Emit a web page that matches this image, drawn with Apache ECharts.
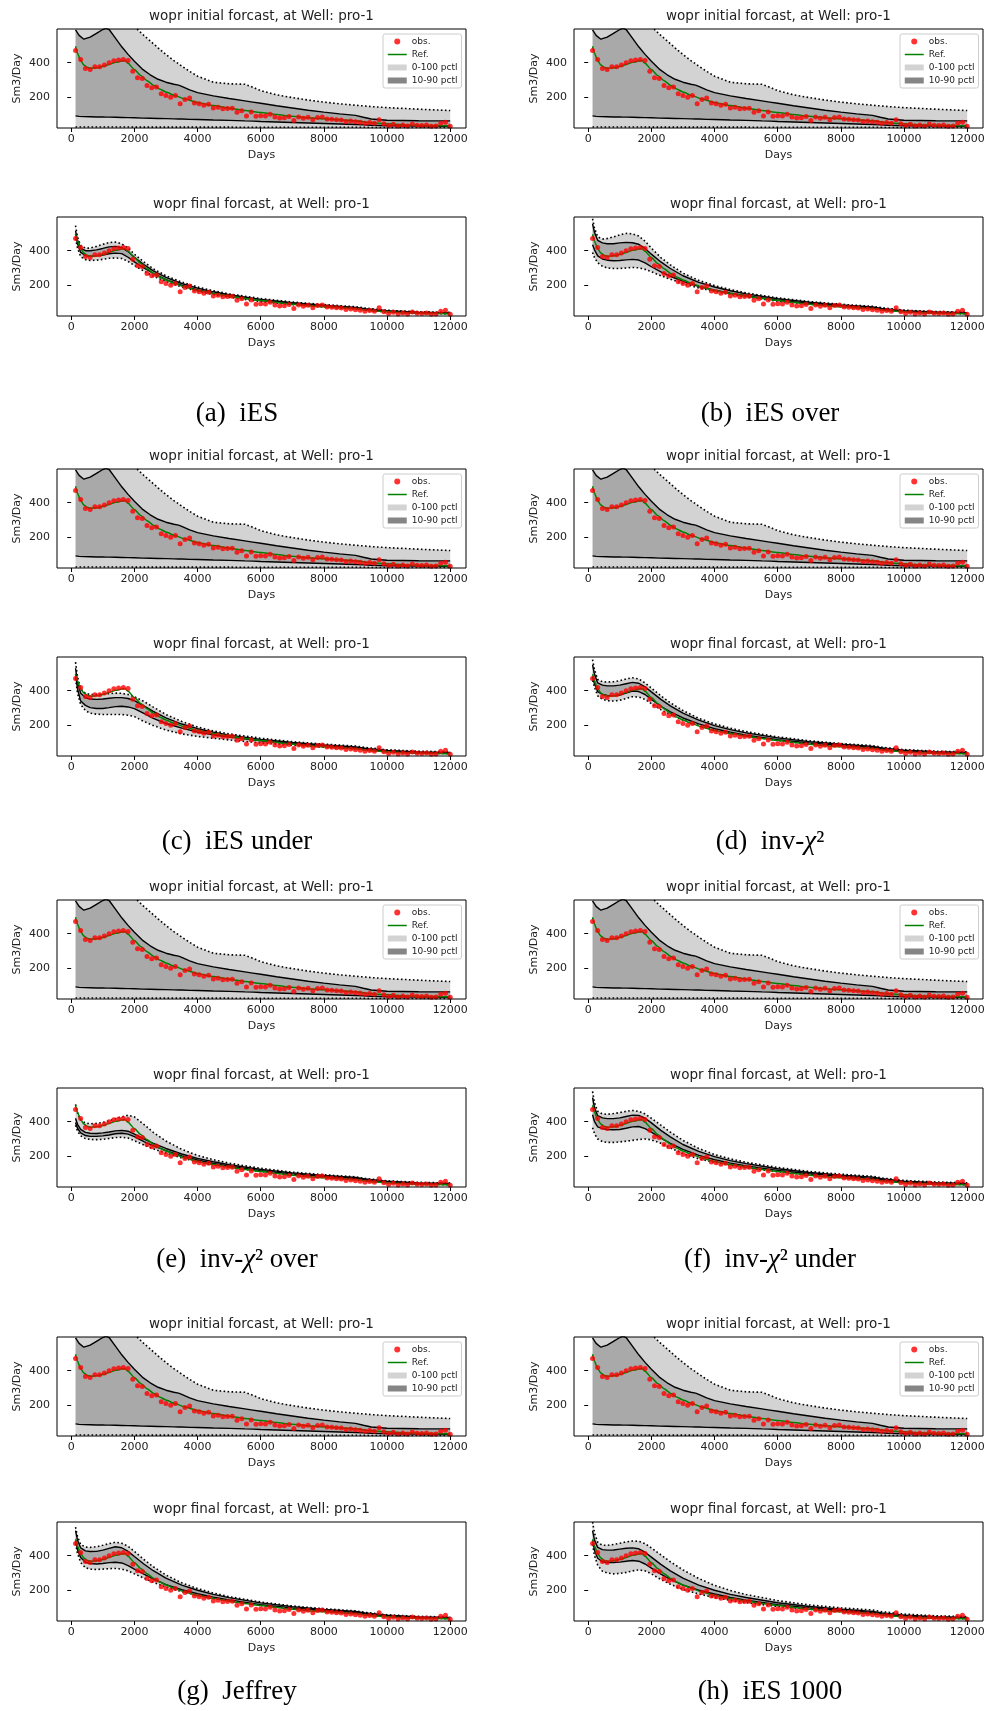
<!DOCTYPE html>
<html><head><meta charset="utf-8">
<script src="https://cdn.jsdelivr.net/npm/echarts@6/dist/echarts.min.js"></script>
<style>html,body{margin:0;padding:0;background:#fff}#c{width:997px;height:1711px}</style>
</head><body><div id="c"></div>
<script>
// ---------- data ----------
const xTicks = [0, 2000, 4000, 6000, 8000, 10000, 12000];
const yTicks = [200, 400];

const obsDays = [137,300,450,600,750,900,1050,1200,1350,1500,1650,1800,1950,2100,2250,2400,2550,2700,2850,3000,3150,3300,3450,3600,3750,3900,4050,4200,4350,4500,4650,4800,4950,5100,5250,5400,5550,5700,5850,6000,6150,6300,6450,6600,6750,6900,7050,7200,7350,7500,7650,7800,7950,8100,8250,8400,8550,8700,8850,9000,9150,9300,9450,9600,9750,9900,10050,10200,10350,10500,10650,10800,10950,11100,11250,11400,11550,11700,11850,12000];
const obsVals = [471,419,367,361,377,377,386,400,411,415,419,413,351,313,309,268,255,259,220,210,200,210,163,187,196,167,163,153,159,138,142,133,135,137,113,122,92,115,90,93,92,101,85,80,82,88,66,86,78,84,70,83,86,74,72,70,68,60,62,58,56,50,54,50,70,46,36,44,34,40,34,45,38,36,40,32,34,50,56,32];

const refDays = [137,200,300,400,500,600,800,1000,1200,1400,1600,1700,1800,2000,2200,2400,2600,2800,3000,3300,3600,4000,4500,5000,5500,6000,6500,7000,7500,8000,8500,9000,9500,10000,10500,11000,11500,12000];
const refVals = [495,455,412,387,373,368,370,378,390,402,410,412,397,360,326,296,270,248,230,208,190,170,152,137,123,111,100,90,82,76,70,64,53,46,41,38,36,34];

// initial (prior) ensemble
const iniDays = [137,250,400,600,800,1000,1100,1200,1400,1600,1800,2000,2250,2500,2750,3000,3250,3400,3500,3750,4000,4500,5000,5500,5750,6000,6500,7000,7500,8000,8500,9000,9250,9500,10000,11000,12000];
const iniMax = [1000,980,950,930,900,880,870,860,820,760,700,610,566,526,486,447,412,394,380,350,322,287,278,275,258,238,214,198,184,172,162,154,150,146,140,131,123];
const iniP90 = [590,558,536,548,570,592,600,592,542,492,448,408,363,330,304,287,275,270,263,243,227,208,193,179,172,165,151,138,125,114,104,95,84,74,67,64,63];
const iniP10 = [92,89,88,87,86,86,85,85,84,83,82,81,79,78,77,76,75,74,74,72,71,68,66,63,62,60,57,54,51,48,45,42,40,38,35,33,32];
const iniMin = [28,28,28,28,28,28,28,28,28,28,28,27,27,27,27,27,27,27,27,27,27,27,27,26,26,26,26,26,26,26,26,26,26,25,25,25,25];

// final (posterior) ensembles
const finDays = [137,200,300,450,600,800,1000,1200,1400,1600,1800,2000,2300,2600,3000,3500,4000,4500,5000,6000,7000,8000,9000,9300,10000,11000,12000];

const aMax = [545,480,430,415,415,425,437,447,450,440,415,380,335,295,255,218,190,168,150,123,103,88,76,68,55,47,43];
const aP90 = [515,460,415,400,400,405,413,422,425,418,395,362,320,283,245,210,183,162,145,118,99,84,72,64,52,44,40];
const aP10 = [495,440,390,372,368,370,375,382,386,383,362,335,300,268,233,199,173,153,137,111,93,79,67,60,48,41,37];
const aMin = [470,415,365,348,343,345,350,356,358,355,338,315,282,252,222,190,165,146,131,105,88,75,63,56,45,38,34];

const bMax = [585,530,480,468,470,480,492,500,498,485,455,415,360,318,270,228,198,175,156,127,106,90,78,70,56,48,44];
const bP90 = [555,505,460,445,440,440,445,448,446,437,413,380,335,297,255,217,190,168,150,122,102,86,74,66,53,45,41];
const bP10 = [435,405,370,352,345,342,343,347,350,346,330,307,277,252,222,193,172,154,139,113,95,80,68,61,49,42,38];
const bMin = [390,360,330,310,300,297,297,300,303,301,292,278,255,235,210,184,165,148,133,107,90,76,64,57,46,39,35];

const cMax = [565,480,410,385,378,378,380,383,386,385,378,365,338,305,262,222,190,167,150,125,105,91,80,72,58,50,46];
const cP90 = [530,450,385,360,352,350,352,356,360,360,355,343,312,280,243,207,180,160,143,118,100,86,75,67,54,46,42];
const cP10 = [495,410,340,315,302,297,297,302,308,310,306,296,268,240,210,183,160,145,132,110,93,80,69,62,50,43,39];
const cMin = [470,385,320,285,270,264,262,262,262,262,258,250,222,198,172,150,135,125,115,98,85,73,63,56,46,39,36];

const dMax = [580,520,465,452,450,452,458,468,475,468,445,415,370,330,285,240,208,183,163,133,110,94,82,73,59,50,46];
const dP90 = [550,495,445,432,428,428,432,440,448,443,422,393,350,312,270,230,198,175,156,127,105,90,78,69,55,47,43];
const dP10 = [480,440,395,378,372,370,375,386,398,395,378,350,310,278,242,208,180,160,143,117,98,83,72,64,51,43,39];
const dMin = [460,420,370,350,342,340,344,355,365,363,350,325,290,262,230,198,172,153,137,111,93,79,68,60,48,40,36];

const eMax = [500,450,410,392,388,390,396,405,417,428,437,428,385,338,288,240,205,180,160,130,108,93,81,72,58,49,45];
const eP90 = [420,385,355,338,333,332,335,340,347,350,345,328,300,275,245,213,188,168,151,124,104,89,77,68,55,46,42];
const eP10 = [395,362,335,320,315,315,318,323,330,333,328,313,285,260,232,202,178,159,143,117,98,83,71,63,51,42,38];
const eMin = [380,345,318,302,297,296,298,303,308,310,305,290,265,243,218,190,168,150,136,111,93,79,67,59,47,39,35];

const fMax = [575,510,460,445,443,447,453,460,465,460,445,420,380,340,292,245,210,185,165,135,112,96,84,74,60,51,46];
const fP90 = [540,480,435,422,418,418,422,430,438,436,420,393,350,312,268,228,198,175,157,128,106,91,79,70,56,47,43];
const fP10 = [440,400,370,360,355,353,355,362,370,372,360,340,305,275,240,205,180,160,144,118,99,84,72,64,51,43,39];
const fMin = [365,330,300,285,280,280,283,287,292,297,300,295,275,248,215,185,165,148,134,110,92,78,67,59,47,39,35];

const gMax = [565,510,465,450,448,452,460,470,478,472,455,425,378,336,288,243,210,184,163,132,109,93,81,72,58,49,45];
const gP90 = [545,490,445,428,424,425,432,442,452,446,425,395,352,313,270,230,200,176,157,127,105,89,77,68,55,46,42];
const gP10 = [490,435,390,362,355,352,355,360,362,358,343,322,293,265,233,203,180,160,144,117,98,83,71,63,51,42,38];
const gMin = [470,412,360,330,322,320,322,325,326,322,312,295,270,246,218,192,171,153,138,112,93,79,67,59,47,39,35];

const hMax = [595,530,478,460,460,465,472,480,485,483,470,445,405,365,318,268,228,198,175,140,115,98,86,76,62,52,48];
const hP90 = [545,490,448,435,432,433,438,443,445,440,420,392,350,312,270,230,200,176,158,128,106,90,78,69,56,47,43];
const hP10 = [490,430,385,365,360,360,363,368,372,368,352,328,293,263,230,200,178,158,143,117,98,83,71,63,51,42,39];
const hMin = [465,400,345,310,300,295,297,303,312,318,312,295,262,235,205,178,158,142,128,106,90,77,66,58,46,38,35];

const captions = ['(a)\u2002iES', '(b)\u2002iES over', '(c)\u2002iES under', '(d)\u2002inv-{i|χ}²',
                  '(e)\u2002inv-{i|χ}² over', '(f)\u2002inv-{i|χ}² under', '(g)\u2002Jeffrey', '(h)\u2002iES 1000'];
const legendNames = ['obs.', 'Ref.', '0-100 pctl', '10-90 pctl'];

// ---------- layout ----------
const W = 409, H = 99;
const colLeft = [57, 574];
const iniTops = [29, 469, 900, 1337];
const finTops = [217, 657, 1088, 1522];
const captionY = [414, 842, 1260, 1692];
const captionX = [237, 770];
const X_MIN = -450, X_MAX = 12500, Y_MIN = 22, Y_MAX = 595;
const LIGHT = '#d3d3d3', DARK = '#a9a9a9', LEG_DARK = '#858585';

const finals = [
  {max: aMax, p90: aP90, p10: aP10, min: aMin},
  {max: bMax, p90: bP90, p10: bP10, min: bMin},
  {max: cMax, p90: cP90, p10: cP10, min: cMin},
  {max: dMax, p90: dP90, p10: dP10, min: dMin},
  {max: eMax, p90: eP90, p10: eP10, min: eMin},
  {max: fMax, p90: fP90, p10: fP10, min: fMin},
  {max: gMax, p90: gP90, p10: gP10, min: gMin},
  {max: hMax, p90: hP90, p10: hP10, min: hMin}
];
const initial = {max: iniMax, p90: iniP90, p10: iniP10, min: iniMin};

const zip = (xs, ys) => xs.map((x, i) => [x, ys[i]]);

const FONT = 'DejaVu Sans';
const grids = [], xAxes = [], yAxes = [], series = [], legends = [], texts = [];

function bandSeries(p, name, days, upper, lower, color) {
  return {
    type: 'custom', name, xAxisIndex: p, yAxisIndex: p, silent: true, clip: true, z: 1,
    itemStyle: {color},
    data: [[days[0], lower[0]]],
    renderItem: function (params, api) {
      const pts = days.map((d, i) => api.coord([d, upper[i]]));
      for (let i = days.length - 1; i >= 0; i--) pts.push(api.coord([days[i], lower[i]]));
      return {type: 'polygon', shape: {points: pts}, style: {fill: color, stroke: null}};
    }
  };
}

for (let p = 0; p < 16; p++) {
  const k = Math.floor(p / 2), isIni = p % 2 === 0;
  const col = k % 2, block = Math.floor(k / 2);
  const left = colLeft[col];
  const top = isIni ? iniTops[block] : finTops[block];
  const days = isIni ? iniDays : finDays;
  const ens = isIni ? initial : finals[k];

  grids.push({left, top, width: W, height: H, show: true, borderColor: '#000', borderWidth: 1,
              backgroundColor: 'rgba(0,0,0,0)', z: 8});
  xAxes.push({gridIndex: p, type: 'value', min: X_MIN, max: X_MAX,
    axisLine: {show: false}, splitLine: {show: false},
    axisTick: {show: true, customValues: xTicks, length: 4, lineStyle: {color: '#000', width: 1}},
    axisLabel: {customValues: xTicks, formatter: v => String(v), fontSize: 11, fontFamily: FONT, color: '#222', margin: 6},
    name: 'Days', nameLocation: 'middle', nameGap: 22,
    nameTextStyle: {fontSize: 11, fontFamily: FONT, color: '#222'}});
  yAxes.push({gridIndex: p, type: 'value', min: Y_MIN, max: Y_MAX,
    axisLine: {show: false}, splitLine: {show: false},
    axisTick: {show: true, customValues: yTicks, length: 4, lineStyle: {color: '#000', width: 1}},
    axisLabel: {customValues: yTicks, formatter: v => String(v), fontSize: 11, fontFamily: FONT, color: '#222', margin: 7},
    name: 'Sm3/Day', nameLocation: 'middle', nameGap: 34,
    nameTextStyle: {fontSize: 11, fontFamily: FONT, color: '#222'}});

  // percentile bands
  series.push(bandSeries(p, '0-100 pctl', days, ens.max, ens.p90, LIGHT));
  series.push(bandSeries(p, '10-90 pctl', days, ens.p90, ens.p10, DARK));
  series.push(bandSeries(p, '0-100 pctl', days, ens.p10, ens.min, LIGHT));

  // bounds
  const base = {type: 'line', xAxisIndex: p, yAxisIndex: p, symbol: 'none', showSymbol: false,
                silent: true, smooth: false, clip: true};
  const dot = {color: '#000', width: 1.6, type: [1.6, 2.4]};
  const sol = {color: '#000', width: 1.4};
  series.push(Object.assign({}, base, {data: zip(days, ens.min), lineStyle: dot, z: 5}));
  series.push(Object.assign({}, base, {data: zip(days, ens.max), lineStyle: dot, z: 5}));
  series.push(Object.assign({}, base, {data: zip(days, ens.p10), lineStyle: sol, z: 5}));
  series.push(Object.assign({}, base, {data: zip(days, ens.p90), lineStyle: sol, z: 5}));
  // reference
  series.push(Object.assign({}, base, {name: 'Ref.', data: zip(refDays, refVals), smooth: 0.2, smoothMonotone: 'x',
    itemStyle: {color: '#008000'}, lineStyle: {color: '#008000', width: 1.5}, z: 6}));
  // observations
  series.push({type: 'scatter', name: 'obs.', xAxisIndex: p, yAxisIndex: p, data: zip(obsDays, obsVals),
    symbol: 'circle', symbolSize: 5, itemStyle: {color: '#ff0000'}, silent: true, z: 7});

  // title
  texts.push({type: 'text', x: left + W / 2, y: top - 12.5, z: 10, silent: true,
    style: {text: isIni ? 'wopr initial forcast, at Well: pro-1' : 'wopr final forcast, at Well: pro-1',
      fill: '#222', font: '13.5px "DejaVu Sans"', textAlign: 'center', textVerticalAlign: 'middle'}});

  if (isIni) {
    legends.push({left: left + 326, top: top + 5, orient: 'vertical', selectedMode: false,
      itemWidth: 19, itemHeight: 6, itemGap: 4, padding: [3, 4, 3, 4],
      borderColor: '#cccccc', borderWidth: 1, borderRadius: 2, backgroundColor: 'rgba(255,255,255,0.85)',
      textStyle: {fontSize: 9, fontFamily: FONT, color: '#222'}, z: 12,
      data: [
        {name: legendNames[0], icon: 'circle', itemStyle: {color: '#ff0000', borderWidth: 0}},
        {name: legendNames[1], itemStyle: {opacity: 0}, lineStyle: {color: '#008000', width: 1.5}},
        {name: legendNames[2], icon: 'rect', itemStyle: {color: LIGHT, borderWidth: 0}},
        {name: legendNames[3], icon: 'rect', itemStyle: {color: LEG_DARK, borderWidth: 0}}
      ]});
  }
}

for (let k = 0; k < 8; k++) {
  texts.push({type: 'text', x: captionX[k % 2], y: captionY[Math.floor(k / 2)], z: 10, silent: true,
    style: {text: captions[k], fill: '#000', font: '27px "Liberation Serif"', textAlign: 'center',
      textVerticalAlign: 'middle',
      rich: {i: {fontStyle: 'italic', fontFamily: 'Liberation Serif', fontSize: 27, fill: '#000'}}}});
}

const chart = echarts.init(document.getElementById('c'), null, {renderer: 'canvas', width: 997, height: 1711});
chart.setOption({
  animation: false,
  backgroundColor: '#fff',
  grid: grids, xAxis: xAxes, yAxis: yAxes, series, legend: legends,
  graphic: {elements: texts}
});
</script></body></html>
